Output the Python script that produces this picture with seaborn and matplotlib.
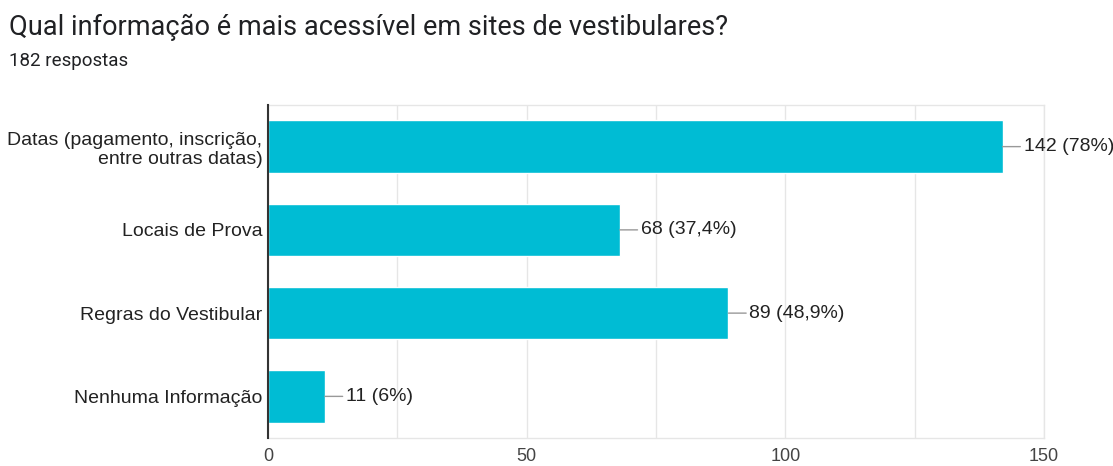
import matplotlib
matplotlib.use("Agg")
import matplotlib.pyplot as plt
import seaborn as sns
import pandas as pd

categories = [
    "Datas (pagamento, inscrição,\nentre outras datas)",
    "Locais de Prova",
    "Regras do Vestibular",
    "Nenhuma Informação",
]
counts = [142, 68, 89, 11]
total = 182
bar_color = "#00BCD4"


def pct_label(n):
    p = round(n / total * 100, 1)
    s = f"{p:.1f}".replace(".", ",")
    if s.endswith(",0"):
        s = s[:-2]
    return f"{n} ({s}%)"


df = pd.DataFrame({"categoria": categories, "respostas": counts})

sns.set_style("white")
plt.rcParams["font.family"] = ["Liberation Sans", "DejaVu Sans"]

fig = plt.figure(figsize=(11.13, 4.66), dpi=100)
ax = fig.add_axes([268 / 1113, 28 / 466, (1044 - 268) / 1113, (438 - 105) / 466])

sns.barplot(data=df, x="respostas", y="categoria", color=bar_color,
            width=0.63, saturation=1, ax=ax)

ax.set_xlim(0, 150)
ax.set_ylim(3.5, -0.5)
ax.set_xticks([0, 50, 100, 150])
ax.set_xticks([25, 75, 125], minor=True)
ax.grid(axis="x", which="both", color="#e6e6e6", lw=1)
ax.set_axisbelow(True)
ax.set_xlabel("")
ax.set_ylabel("")
ax.tick_params(axis="x", which="both", length=0, pad=7, labelsize=13, labelcolor="#444444")
ax.tick_params(axis="y", length=0, pad=4, labelsize=14, labelcolor="#222222")
for lab in ax.get_yticklabels():
    lab.set_horizontalalignment("right")
    lab.set_multialignment("right")
    lab.set_linespacing(1.15)

for side in ["top", "right", "bottom"]:
    ax.spines[side].set_color("#e6e6e6")
    ax.spines[side].set_linewidth(1)
ax.spines["left"].set_color("#333333")
ax.spines["left"].set_linewidth(1.5)
ax.spines["left"].set_zorder(5)

for i, n in enumerate(counts):
    ax.annotate(pct_label(n), xy=(n, i), xytext=(21, 0), textcoords="offset pixels",
                ha="left", va="center", fontsize=14, color="#222222",
                arrowprops=dict(arrowstyle="-", color="#999999", lw=1,
                                shrinkA=0, shrinkB=0))

fig.text(9 / 1113, 1 - 27 / 466, "Qual informação é mais acessível em sites de vestibulares?",
         fontsize=19.5, family=["Roboto", "DejaVu Sans"], color="#202124", va="center")
fig.text(9 / 1113, 1 - 61 / 466, "182 respostas",
         fontsize=13.5, family=["Roboto", "DejaVu Sans"], color="#202124", va="center")

fig.savefig("out.png", dpi=100)
